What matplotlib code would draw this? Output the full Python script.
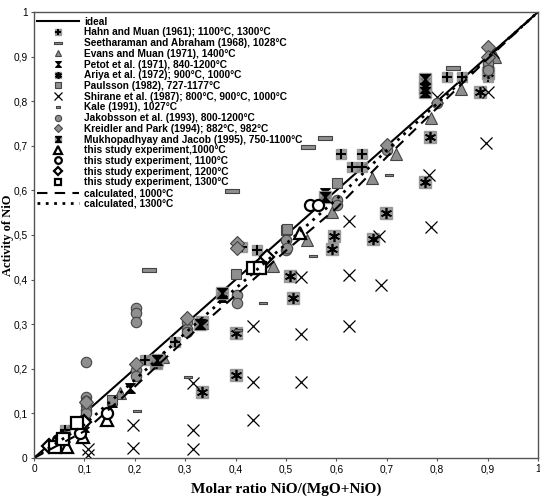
import matplotlib
matplotlib.use('Agg')
import matplotlib.pyplot as plt
from matplotlib.ticker import FuncFormatter, MultipleLocator
from matplotlib.legend_handler import HandlerTuple
from matplotlib.path import Path

# --- data (x = molar ratio NiO, y = activity NiO) ---
calc_x = [0, 0.1, 0.2, 0.3, 0.4, 0.5, 0.6, 0.7, 0.8, 0.9, 1.0]
calc_1000 = [0, 0.06, 0.16, 0.265, 0.365, 0.465, 0.56, 0.675, 0.785, 0.895, 1.0]
calc_1300 = [0, 0.075, 0.175, 0.28, 0.38, 0.48, 0.58, 0.69, 0.795, 0.898, 1.0]

hahn_x = [0.062, 0.22, 0.28, 0.413, 0.442, 0.609, 0.631, 0.651, 0.651, 0.82, 0.85, 0.9, 0.9]
hahn_y = [0.063, 0.22, 0.26, 0.473, 0.466, 0.682, 0.652, 0.682, 0.652, 0.854, 0.854, 0.854, 0.87]

seeth_x = [0.228, 0.393, 0.544, 0.577, 0.831]
seeth_y = [0.421, 0.599, 0.697, 0.717, 0.874]

evans_x = [0.06, 0.171, 0.256, 0.333, 0.474, 0.542, 0.591, 0.671, 0.718, 0.788, 0.847, 0.915]
evans_y = [0.05, 0.146, 0.226, 0.303, 0.43, 0.489, 0.552, 0.628, 0.682, 0.762, 0.827, 0.9]

petot_x = [0.1, 0.155, 0.19, 0.244, 0.373, 0.577, 0.776]
petot_y = [0.07, 0.126, 0.157, 0.213, 0.361, 0.594, 0.84]

ariya_x = [0.242, 0.333, 0.333, 0.40, 0.40, 0.508, 0.513, 0.591, 0.595, 0.672, 0.698, 0.776, 0.786, 0.885, 0.9]
ariya_y = [0.213, 0.148, 0.305, 0.28, 0.186, 0.408, 0.359, 0.469, 0.498, 0.491, 0.549, 0.619, 0.72, 0.821, 0.863]

paul_x = [0.085, 0.155, 0.40, 0.50, 0.502, 0.601, 0.9]
paul_y = [0.078, 0.13, 0.413, 0.511, 0.513, 0.617, 0.88]

shir_x = [0.107, 0.107, 0.196, 0.196, 0.316, 0.316, 0.316, 0.434, 0.434, 0.434, 0.53, 0.53, 0.53,
          0.625, 0.625, 0.625, 0.685, 0.688, 0.784, 0.788, 0.80, 0.897, 0.9, 0.91]
shir_y = [0.007, 0.02, 0.022, 0.074, 0.02, 0.063, 0.168, 0.085, 0.17, 0.296, 0.17, 0.278, 0.406,
          0.296, 0.41, 0.531, 0.498, 0.388, 0.635, 0.518, 0.81, 0.706, 0.821, 0.91]

kale_x = [0.204, 0.306, 0.405, 0.455, 0.554, 0.704]
kale_y = [0.105, 0.182, 0.287, 0.347, 0.453, 0.635]

jak_x = [0.06, 0.103, 0.103, 0.103, 0.103, 0.103, 0.103, 0.202, 0.202, 0.202, 0.202, 0.202,
         0.303, 0.303, 0.303, 0.403, 0.403, 0.5, 0.5, 0.502, 0.601, 0.601, 0.70, 0.80, 0.9, 0.9]
jak_y = [0.05, 0.215, 0.137, 0.127, 0.118, 0.108, 0.10, 0.336, 0.325, 0.305, 0.197, 0.183,
         0.305, 0.29, 0.283, 0.365, 0.348, 0.489, 0.466, 0.47, 0.578, 0.567, 0.69, 0.796, 0.886, 0.87]

kreid_x = [0.103, 0.202, 0.303, 0.403, 0.403, 0.70, 0.9, 0.9]
kreid_y = [0.126, 0.21, 0.314, 0.482, 0.47, 0.702, 0.922, 0.9]

mukh_x = [0.244, 0.33, 0.373, 0.577, 0.776, 0.776, 0.776]
mukh_y = [0.22, 0.3, 0.37, 0.585, 0.82, 0.83, 0.85]

s1000_x = [0.065, 0.097, 0.145, 0.528]
s1000_y = [0.025, 0.047, 0.085, 0.504]
s1100_x = [0.048, 0.092, 0.145, 0.548, 0.563]
s1100_y = [0.04, 0.056, 0.1, 0.567, 0.567]
s1200_x = [0.03, 0.055, 0.1, 0.462]
s1200_y = [0.028, 0.045, 0.08, 0.45]
s1300_x = [0.042, 0.058, 0.085, 0.434, 0.448]
s1300_y = [0.025, 0.042, 0.078, 0.426, 0.426]

GRAY = '#8f8f8f'
EDGE = '#454545'

plt.rcParams['font.family'] = ['Liberation Sans', 'DejaVu Sans']

fig = plt.figure(figsize=(5.40, 5.01), dpi=100)
ax = fig.add_axes([34/540, 1-458/501, 504/540, 446/501])

dash_bar = [(-1, -0.3), (1, -0.3), (1, 0.3), (-1, 0.3), (-1, -0.3)]
hourglass = Path([(-1, 1), (1, 1), (-1, -1), (1, -1), (-1, 1)],
                 [Path.MOVETO, Path.LINETO, Path.LINETO, Path.LINETO, Path.CLOSEPOLY])

def pts(x, y, **kw):
    kw.setdefault('linestyle', 'none')
    return ax.plot(x, y, **kw)[0]

h_ideal, = ax.plot([0, 1], [0, 1], color='black', lw=1.5)

h_hahn = (pts(hahn_x, hahn_y, marker='s', ms=7, mfc=GRAY, mec=GRAY, alpha=0.85),
          pts(hahn_x, hahn_y, marker='+', ms=7, mew=1.5, color='black'))
h_seeth = pts(seeth_x, seeth_y, marker=dash_bar, ms=10, mfc=GRAY, mec=EDGE, mew=0.8)
h_evans = pts(evans_x, evans_y, marker='^', ms=8, mfc=GRAY, mec=EDGE, mew=0.8)
h_petot = pts(petot_x, petot_y, marker=hourglass, ms=7, mfc='black', mec='black', mew=0.8)
h_ariya = (pts(ariya_x, ariya_y, marker='s', ms=8, mfc=GRAY, mec=GRAY, alpha=0.85),
           pts(ariya_x, ariya_y, marker=(6, 2, 0), ms=8, mew=1.2, color='black'))
h_paul = pts(paul_x, paul_y, marker='s', ms=7.5, mfc=GRAY, mec=EDGE, mew=0.8)
h_shir = pts(shir_x, shir_y, marker='x', ms=9, mew=0.9, color='black')
h_kale = pts(kale_x, kale_y, marker=dash_bar, ms=6, mfc=GRAY, mec=EDGE, mew=0.8)
h_jak = pts(jak_x, jak_y, marker='o', ms=7.5, mfc=GRAY, mec=EDGE, mew=0.8)
h_kreid = pts(kreid_x, kreid_y, marker='D', ms=7, mfc=GRAY, mec=EDGE, mew=0.8)
h_mukh = (pts(mukh_x, mukh_y, marker='s', ms=8, mfc=GRAY, mec=GRAY, alpha=0.85),
          pts(mukh_x, mukh_y, marker=hourglass, ms=7, mfc='black', mec='black'))
h_s1000 = pts(s1000_x, s1000_y, marker='^', ms=9, mfc='white', mec='black', mew=1.6)
h_s1100 = pts(s1100_x, s1100_y, marker='o', ms=8, mfc='white', mec='black', mew=1.6)
h_s1200 = pts(s1200_x, s1200_y, marker='D', ms=7, mfc='white', mec='black', mew=1.6)
h_s1300 = pts(s1300_x, s1300_y, marker='s', ms=8, mfc='white', mec='black', mew=1.6)

h_c1000, = ax.plot(calc_x, calc_1000, color='black', lw=1.5, ls=(0, (5, 3.5)))
h_c1300, = ax.plot(calc_x, calc_1300, color='black', lw=2, ls=(0, (1, 2)))

handles = [h_ideal, h_hahn, h_seeth, h_evans, h_petot, h_ariya, h_paul, h_shir, h_kale,
           h_jak, h_kreid, h_mukh, h_s1000, h_s1100, h_s1200, h_s1300, h_c1000, h_c1300]
labels = ['ideal',
          'Hahn and Muan (1961); 1100°C, 1300°C',
          'Seetharaman and Abraham (1968), 1028°C',
          'Evans and Muan (1971), 1400°C',
          'Petot et al. (1971), 840-1200°C',
          'Ariya et al. (1972); 900°C, 1000°C',
          'Paulsson (1982), 727-1177°C',
          'Shirane et al. (1987); 800°C, 900°C, 1000°C',
          'Kale (1991), 1027°C',
          'Jakobsson et al. (1993), 800-1200°C',
          'Kreidler and Park (1994); 882°C, 982°C',
          'Mukhopadhyay and Jacob (1995), 750-1100°C',
          'this study experiment,1000°C',
          'this study experiment, 1100°C',
          'this study experiment, 1200°C',
          'this study experiment, 1300°C',
          'calculated, 1000°C',
          'calculated, 1300°C']
ax.legend(handles, labels, loc='upper left', frameon=False, markerscale=0.6,
          prop={'weight': 'bold', 'size': 7.3}, handlelength=4.2, handletextpad=0.5,
          labelspacing=0.07, borderaxespad=0.0, borderpad=0.25,
          handler_map={tuple: HandlerTuple(ndivide=1, pad=0)},
          bbox_to_anchor=(0.0, 0.995))

ax.set_xlim(0, 1)
ax.set_ylim(0, 1)
ax.xaxis.set_major_locator(MultipleLocator(0.1))
ax.yaxis.set_major_locator(MultipleLocator(0.1))
fmt = FuncFormatter(lambda v, p: ('%g' % round(v, 2)).replace('.', ','))
ax.xaxis.set_major_formatter(fmt)
ax.yaxis.set_major_formatter(fmt)
ax.tick_params(direction='out', length=2.5, width=0.8, labelsize=7.3, pad=2, color='#555555')
for sp in ax.spines.values():
    sp.set_color('#555555')
    sp.set_linewidth(1.0)

ax.set_xlabel('Molar ratio NiO/(MgO+NiO)', family=['Liberation Serif', 'DejaVu Serif'],
              weight='bold', fontsize=11, labelpad=6)
ax.set_ylabel('Activity of NiO', family=['Liberation Serif', 'DejaVu Serif'],
              weight='bold', fontsize=9)
# label's anchor is its right edge once rotated
ax.yaxis.set_label_coords(-0.0395, 0.5)

fig.savefig('out.png', dpi=100)
